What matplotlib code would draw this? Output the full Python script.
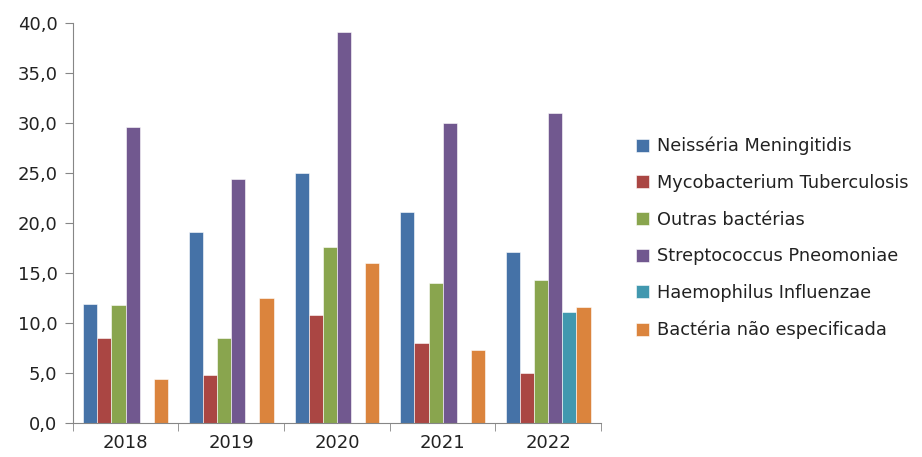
import matplotlib.pyplot as plt
import numpy as np

anos = ["2018", "2019", "2020", "2021", "2022"]
series = [
    "Neisséria Meningitidis",
    "Mycobacterium Tuberculosis",
    "Outras bactérias",
    "Streptococcus Pneomoniae",
    "Haemophilus Influenzae",
    "Bactéria não especificada",
]
neisseria = [11.9, 19.1, 25.0, 21.1, 17.1]
mycobacterium = [8.5, 4.8, 10.8, 8.0, 5.0]
outras = [11.8, 8.5, 17.6, 14.0, 14.3]
streptococcus = [29.6, 24.4, 39.1, 30.0, 31.0]
haemophilus = [np.nan, np.nan, np.nan, np.nan, 11.1]
nao_especificada = [4.4, 12.5, 16.0, 7.3, 11.6]
valores = [neisseria, mycobacterium, outras, streptococcus, haemophilus, nao_especificada]
cores = ["#4572A7", "#AA4643", "#89A54E", "#71588F", "#4198AF", "#DB843D"]

fig = plt.figure(figsize=(9.22, 4.57), dpi=100)
ax = fig.add_axes([0.0789, 0.0744, 0.652 - 0.0789, 0.949 - 0.0744])

x = np.arange(len(anos))
w = 1 / 7.5  # gap width 150%
for i, (nome, v, c) in enumerate(zip(series, valores, cores)):
    pos = x - 0.5 + 0.75 * w + (i + 0.5) * w
    ax.bar(pos, v, width=w, color=c, label=nome, edgecolor="white", linewidth=0.4)

ax.set_xlim(-0.5, len(anos) - 0.5)
ax.set_ylim(0, 40)
ax.set_yticks(np.arange(0, 41, 5))
ax.set_yticklabels([f"{t:.1f}".replace(".", ",") for t in np.arange(0, 41, 5)])
ax.set_xticks(x)
ax.set_xticklabels(anos)
ax.set_xticks(np.arange(-0.5, len(anos), 1), minor=True)
ax.tick_params(axis="x", which="major", length=0, pad=8, labelsize=13, colors="#222222")
ax.tick_params(axis="x", which="minor", length=6, direction="out", color="#868686")
ax.tick_params(axis="y", length=6, direction="out", color="#868686", labelsize=13,
               labelcolor="#222222", pad=5)
for s in ["top", "right"]:
    ax.spines[s].set_visible(False)
for s in ["left", "bottom"]:
    ax.spines[s].set_color("#868686")

ax.legend(loc="center left", bbox_to_anchor=(1.036, 0.4625), frameon=False, fontsize=12.8,
          handlelength=0.75, handleheight=0.75, handletextpad=0.4, labelspacing=1.05,
          labelcolor="#222222")

fig.savefig("out.png", dpi=100)
